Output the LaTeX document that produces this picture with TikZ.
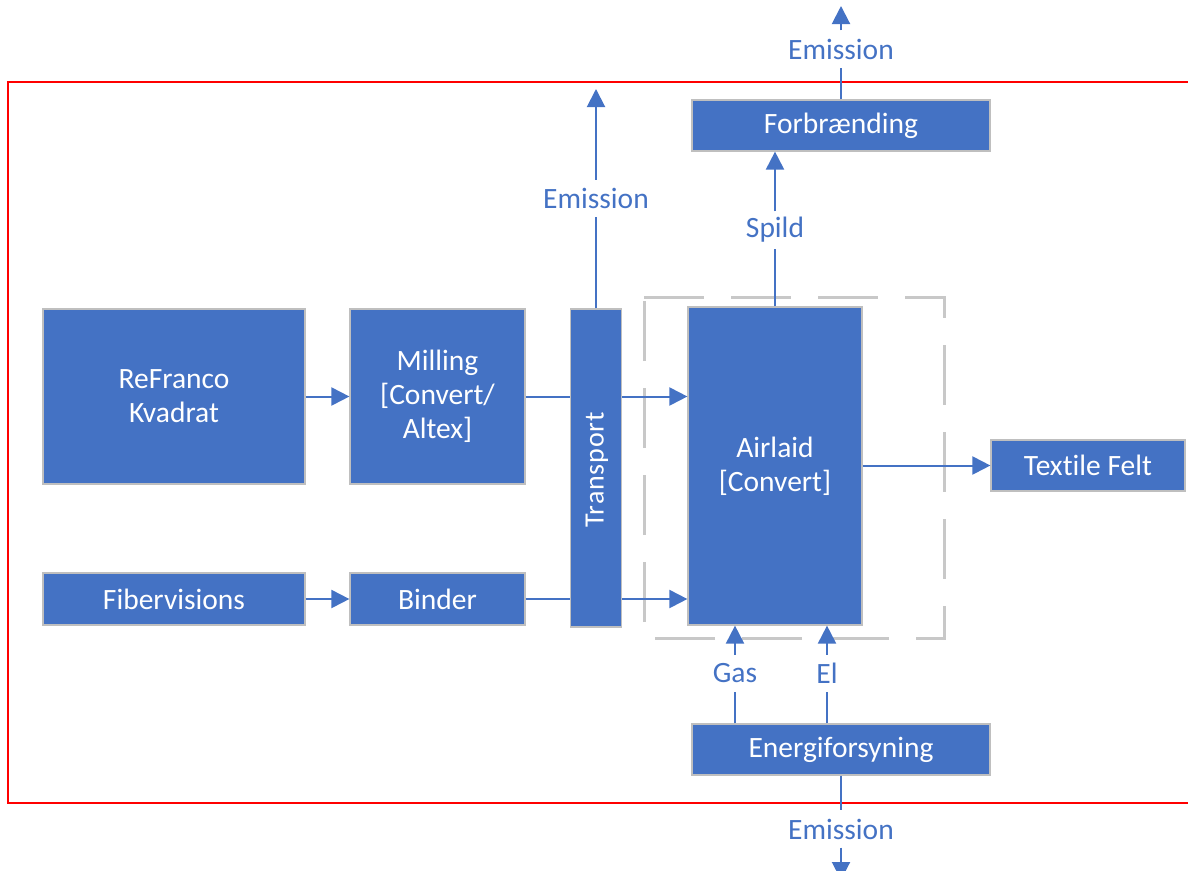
\documentclass[tikz,border=0pt]{standalone}
\usepackage{fontspec}
\setmainfont{Carlito}[Ligatures={NoCommon}]
\usetikzlibrary{arrows.meta}
\definecolor{mblue}{HTML}{4472C4}
\definecolor{bgray}{HTML}{BFBFBF}
\definecolor{dgray}{HTML}{C8C8C8}
\begin{document}
\begin{tikzpicture}[x=1pt,y=-1pt,
  box/.style={rectangle, fill=mblue, draw=bgray, line width=1.2pt, text=white, inner sep=0pt, align=center, font=\fontsize{29.5}{34}\selectfont},
  lbl/.style={rectangle, inner sep=0pt, minimum height=37pt, text=mblue, font=\fontsize{29.5}{34}\selectfont},
  conn/.style={draw=mblue, line width=2pt},
  arr/.style={conn, -{Triangle[length=18pt,width=18pt]}}
]
\useasboundingbox (0,0) rectangle (1188,870);
% red frame
\draw[red, line width=2.5pt] (1195,82) -- (8,82) -- (8,803) -- (1195,803);
% dashed boundary
\draw[dgray, line width=3pt, dash pattern=on 60pt off 27pt] (644,297) -- (944,297) -- (944,638) -- (644,638) -- cycle;
% boxes
\node[box, minimum width=262pt, minimum height=175pt] (refranco) at (174,396.5) {ReFranco\\Kvadrat};
\node[box, minimum width=175pt, minimum height=175pt] (milling) at (437.5,396.5) {Milling\\{[}Convert/\\Altex{]}};
\node[box, minimum width=262pt, minimum height=52pt] (fiber) at (174,599) {Fibervisions};
\node[box, minimum width=175pt, minimum height=52pt] (binder) at (437.5,599) {Binder};
\node[box, minimum width=51pt, minimum height=318pt] (transport) at (596,468) {};
\node[text=white, rotate=90, font=\fontsize{28}{34}\selectfont\addfontfeature{LetterSpace=3}] (transporttxt) at (597,470) {Transport};
\node[box, minimum width=174pt, minimum height=318pt] (airlaid) at (775,466) {Airlaid\\{[}Convert{]}};
\node[box, minimum width=194pt, minimum height=51pt] (textile) at (1088,465.5) {Textile Felt};
\node[box, minimum width=298pt, minimum height=51pt] (forb) at (841,125.5) {Forbrænding};
\node[box, minimum width=298pt, minimum height=51pt] (energi) at (841,749.5) {Energiforsyning};
% labels
\node[lbl] (em1) at (841,49) {Emission};
\node[lbl] (em2) at (596,198.5) {Emission};
\node[lbl] (spild) at (775,230) {Spild};
\node[lbl] (gas) at (735,673.5) {Gas};
\node[lbl] (el) at (827,673.5) {El};
\node[lbl] (em3) at (841,829) {Emission};
\coordinate (t1) at (841,6);
\coordinate (t2) at (596,89);
\coordinate (t3) at (841,880);
% connectors
\draw[arr] (refranco.east) -- (milling.west);
\draw[arr] (fiber.east) -- (binder.west);
\draw[conn] (milling.east) -- (transport.west |- milling.east);
\draw[arr] (transport.east |- milling.east) -- (airlaid.west |- milling.east);
\draw[conn] (binder.east) -- (transport.west |- binder.east);
\draw[arr] (transport.east |- binder.east) -- (airlaid.west |- binder.east);
\draw[arr] (airlaid.east |- textile.west) -- (textile.west);
\draw[conn] (transport.north) -- (em2);
\draw[arr] (em2) -- (t2);
\draw[conn] (airlaid.north) -- (spild);
\draw[arr] (spild) -- (forb.south -| spild);
\draw[conn] (forb.north) -- (em1);
\draw[arr] (em1) -- (t1);
\draw[conn] (energi.north -| gas) -- (gas);
\draw[arr] (gas) -- (airlaid.south -| gas);
\draw[conn] (energi.north -| el) -- (el);
\draw[arr] (el) -- (airlaid.south -| el);
\draw[conn] (energi.south) -- (em3);
\draw[arr] (em3) -- (t3);
\end{tikzpicture}
\end{document}
